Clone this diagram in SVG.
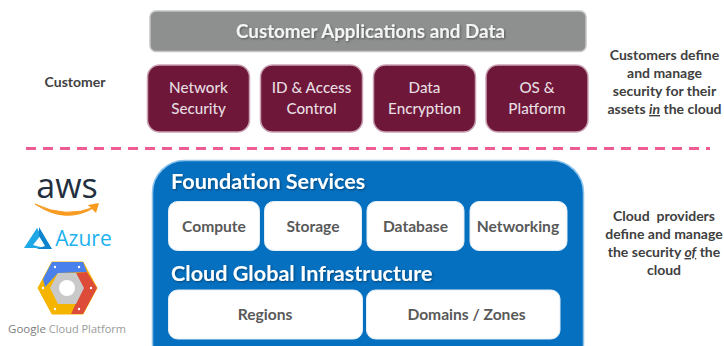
<svg xmlns="http://www.w3.org/2000/svg" width="724" height="346" viewBox="0 0 724 346">
<defs>
<style>
text{font-family:"Lato","Carlito","Open Sans",sans-serif;text-anchor:middle}
.side{font-size:14px;font-weight:700;fill:#404040;white-space:pre}
.mt{font-size:15.2px;fill:#e6dde0;font-weight:500}
.wt{font-size:15.6px;font-weight:700;fill:#595959}
.ht{font-size:21.6px;font-weight:700;fill:#fff;text-anchor:start}
.mb{fill:#6f1739;stroke:#c9a3b3;stroke-width:1.5}
.wb{fill:#fff;stroke:#e3eef7;stroke-width:1}
.dot{fill:#fff}
.logo{font-family:"Open Sans",sans-serif}
</style>
<filter id="ts" x="-5%" y="-20%" width="110%" height="140%"><feDropShadow dx="1" dy="1" stdDeviation="0.8" flood-color="#000" flood-opacity="0.4"/></filter>
</defs>
<rect width="724" height="346" fill="#fff"/>
<g id="connectors"><line x1="26" y1="148.500" x2="710" y2="148.500" stroke="#ef5c94" stroke-width="3" stroke-dasharray="10 7"/></g>
<g id="customer-label"><text class="side" x="75" y="87">Customer</text></g>
<g id="customer-apps"><rect x="150" y="11" width="436" height="40.500" rx="6" fill="#8e908f" stroke="#c4c5c4" stroke-width="1.500"/><text x="370.500" y="38" font-size="18.800" font-weight="700" fill="#f4f4f4" filter="url(#ts)">Customer Applications and Data</text></g>
<g id="network-security"><rect class="mb" x="147.500" y="65" width="102" height="67" rx="12"/><text class="mt" x="198.500" y="93">Network</text><text class="mt" x="198.500" y="114">Security</text></g>
<g id="id-access"><rect class="mb" x="260.500" y="65" width="102" height="67" rx="12"/><text class="mt" x="311.500" y="93">ID &amp; Access</text><text class="mt" x="311.500" y="114">Control</text></g>
<g id="data-encryption"><rect class="mb" x="373.500" y="65" width="102" height="67" rx="12"/><text class="mt" x="424.500" y="93">Data</text><text class="mt" x="424.500" y="114">Encryption</text></g>
<g id="os-platform"><rect class="mb" x="486" y="65" width="102" height="67" rx="12"/><text class="mt" x="537" y="93">OS &amp;</text><text class="mt" x="537" y="114">Platform</text></g>
<g id="customer-note"><text class="side" x="664.500" y="60">Customers define</text><text class="side" x="664.500" y="78">and manage</text><text class="side" x="664.500" y="96">security for their</text><text class="side" x="664.500" y="114">assets <tspan font-style="italic" text-decoration="underline">in</tspan> the cloud</text></g>
<g id="foundation"><rect x="152.500" y="160.500" width="431" height="215" rx="32" fill="#0570c0" stroke="#8ec4ea" stroke-width="1.500"/>
<text class="ht" x="171" y="189" filter="url(#ts)">Foundation Services</text>
<text class="ht" x="171" y="281" filter="url(#ts)">Cloud Global Infrastructure</text></g>
<g id="compute"><rect class="wb" x="168.500" y="201.500" width="91" height="49" rx="9"/><text class="wt" x="214" y="232">Compute</text></g>
<g id="storage"><rect class="wb" x="264.500" y="201.500" width="97" height="49" rx="9"/><text class="wt" x="313" y="232">Storage</text></g>
<g id="database"><rect class="wb" x="367" y="201.500" width="97" height="49" rx="9"/><text class="wt" x="415.500" y="232">Database</text></g>
<g id="networking"><rect class="wb" x="470" y="201.500" width="97" height="49" rx="9"/><text class="wt" x="518" y="232">Networking</text></g>
<g id="regions"><rect class="wb" x="168.500" y="290" width="194" height="49" rx="9"/><text class="wt" x="265" y="320">Regions</text></g>
<g id="domains"><rect class="wb" x="366.500" y="290" width="193.500" height="49" rx="9"/><text class="wt" x="466.500" y="320">Domains / Zones</text></g>
<g id="cloud-note"><text class="side" x="664" y="221">Cloud  providers</text><text class="side" x="664" y="239">define and manage</text><text class="side" x="664" y="257">the security <tspan font-style="italic" text-decoration="underline">of</tspan> the</text><text class="side" x="664" y="275">cloud</text></g>
<g id="aws"><text class="logo" x="67" y="198" font-size="34" font-weight="500" fill="#232f3e">aws</text>
<path d="M35 204Q66 225 95 207Q66 219 35 204Z" fill="#f79a1e" stroke="#f79a1e" stroke-width="1"/><path d="M88 205L99 203L96 213Z" fill="#f79a1e"/></g>
<g id="azure"><path d="M24 248L37 228L41 235L33 245L44 248Z" fill="#1fa8e6"/><path d="M39 227L52 249H36L45 246L39 236Z" fill="#0e84cc"/><text class="logo" x="83.500" y="246" font-size="21" font-weight="500" fill="#1db2ee">Azure</text></g>
<g id="gcp">
<path d="M38 288L52 262H83L97 288L83 314H52Z" fill="#f4b400" stroke="#f4b400" stroke-width="1" stroke-linejoin="round"/>
<path d="M52 262H83L87 272L58 273L45 287L43 279Z" fill="#4a80ec"/>
<path d="M76 273L87 272L97 288L83 314H71L83 288Z" fill="#dd4b39"/>
<path d="M58 273H76L84 288L76 304H58L50 288Z" fill="#c9c9c9"/>
<circle cx="67" cy="288" r="8" fill="#fff"/>
<circle class="dot" cx="55" cy="267" r="1.200"/><circle class="dot" cx="79" cy="267" r="1.200"/><circle class="dot" cx="91" cy="288" r="1.200"/><circle class="dot" cx="79" cy="309" r="1.200"/><circle class="dot" cx="55" cy="309" r="1.200"/><circle class="dot" cx="43" cy="288" r="1.200"/>
<text class="logo" x="67" y="333" font-size="11.500" fill="#7d7d7d">Google <tspan font-size="11" fill="#9a9a9a">Cloud Platform</tspan></text></g>
</svg>
